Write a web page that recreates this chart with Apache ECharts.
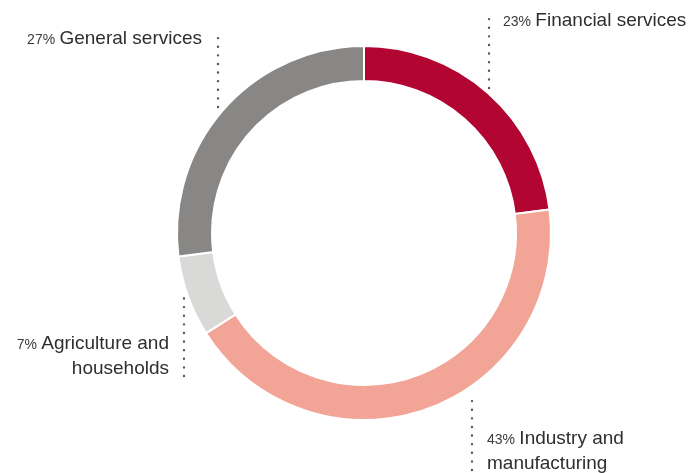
<!DOCTYPE html>
<html>
<head>
<meta charset="utf-8">
<script src="https://cdn.jsdelivr.net/npm/echarts@6/dist/echarts.min.js"></script>
<style>
  html, body { margin: 0; padding: 0; background: #fff; }
  #chart { width: 693px; height: 473px; }
</style>
</head>
<body>
<div id="chart"></div>
<script>
// sectors, clockwise from 12 o'clock
const sectors = ['Financial services', 'Industry and manufacturing', 'Agriculture and households', 'General services'];
const shares = [23, 43, 7, 27];
// how each name is broken over lines in the labels
const nameLines = [['Financial services'], ['Industry and', 'manufacturing'], ['Agriculture and', 'households'], ['General services']];

const palette = ['#b30532', '#f2a496', '#d9d9d7', '#888785'];

// where each label and its dotted stem sit
const labelSpots = [
  { x: 503, y: 21, align: 'left', stemX: 489, stem: [13, 88] },
  { x: 487, y: 451, align: 'left', stemX: 472, stem: [393, 470] },
  { x: 169, y: 356, align: 'right', stemX: 184, stem: [298, 376] },
  { x: 202, y: 39, align: 'right', stemX: 218, stem: [30, 107] }
];

const chart = echarts.init(document.getElementById('chart'));

chart.setOption({
  animation: false,
  color: palette,
  series: [{
    type: 'pie',
    center: [364, 233],
    radius: [152, 187],
    startAngle: 90,
    clockwise: true,
    avoidLabelOverlap: false,
    itemStyle: { borderColor: '#fff', borderWidth: 2 },
    emphasis: { disabled: true },
    label: {
      show: true,
      position: 'outside',
      fontFamily: 'Liberation Sans',
      lineHeight: 25,
      formatter: (p) => {
        const lines = nameLines[p.dataIndex];
        let s = '{p|' + shares[p.dataIndex] + '%} {n|' + lines[0] + '}';
        for (let i = 1; i < lines.length; i++) s += '\n{n|' + lines[i] + '}';
        return s;
      },
      rich: {
        p: { fontSize: 14, color: '#3a3a3a', fontFamily: 'Liberation Sans', lineHeight: 25, padding: [3, 1, 0, 0] },
        n: { fontSize: 19, color: '#2e2e2e', fontFamily: 'Liberation Sans', lineHeight: 25 }
      }
    },
    labelLine: {
      show: true,
      lineStyle: { color: '#555', width: 2.4, type: [0.01, 8.6], cap: 'round' }
    },
    labelLayout: (params) => {
      const s = labelSpots[params.dataIndex];
      return {
        x: s.x,
        y: s.y,
        align: s.align,
        verticalAlign: 'middle',
        labelLinePoints: [[s.stemX, s.stem[1]], [s.stemX, (s.stem[0] + s.stem[1]) / 2], [s.stemX, s.stem[0]]]
      };
    },
    data: sectors.map((name, i) => ({ name: name, value: shares[i] }))
  }]
});
</script>
</body>
</html>
